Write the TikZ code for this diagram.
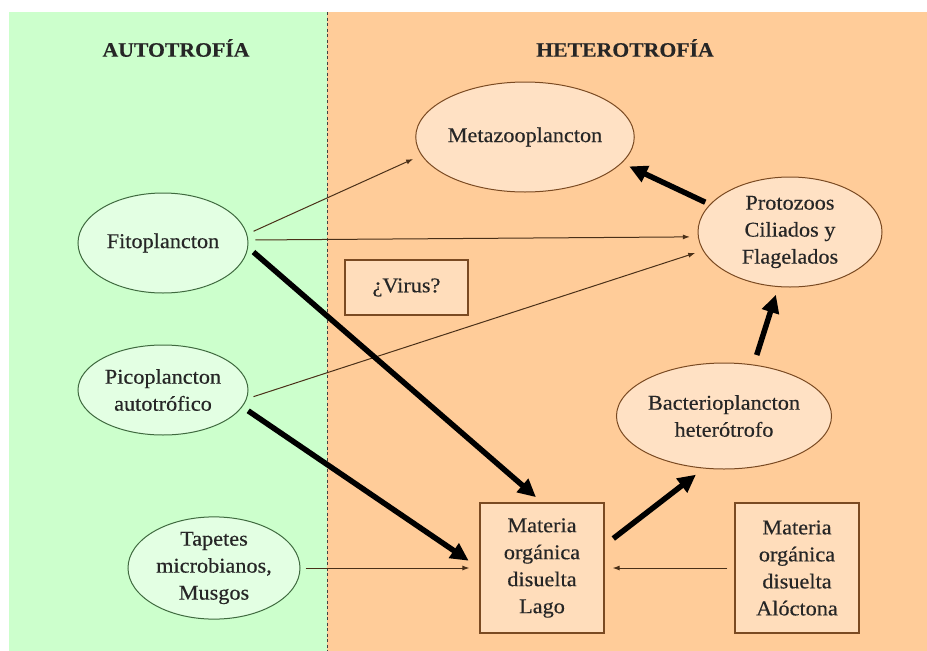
\documentclass[tikz,border=0pt]{standalone}
\usepackage{fontspec}
\setmainfont[FakeStretch=1.06,FakeBold=0.35]{Liberation Serif}
\usetikzlibrary{shapes.geometric,arrows.meta,calc}

\definecolor{verde}{HTML}{CCFFCC}
\definecolor{naranja}{HTML}{FFCC99}
\definecolor{verdeclaro}{HTML}{E3FFE3}
\definecolor{naranjaclaro}{HTML}{FFE1C4}
\definecolor{cajafondo}{HTML}{FFDDBB}
\definecolor{bordeverde}{HTML}{3F6A3F}
\definecolor{bordenaranja}{HTML}{7A4A22}
\definecolor{flecha}{HTML}{4A3018}

\tikzset{
  titulo/.style={font=\fontsize{20.5}{24}\selectfont\bfseries, text=black!85},
  texto/.style={font=\fontsize{21}{27}\selectfont, align=center, text=black!85, inner sep=0pt},
  elipv/.style={texto, ellipse, draw=bordeverde, fill=verdeclaro, line width=1pt},
  elipn/.style={texto, ellipse, draw=bordenaranja, fill=naranjaclaro, line width=1pt},
  caja/.style={texto, rectangle, draw=bordenaranja, fill=cajafondo, line width=1.2pt},
  fina/.style={draw=flecha, line width=1pt, -{Latex[length=7pt,width=5pt]}},
  gruesa/.style={draw=black, line width=5.5pt, -{Triangle[length=18pt,width=17pt]}},
  divisoria/.style={draw=black!75, line width=1pt, dash pattern=on 3pt off 2.5pt}
}

\begin{document}
\begin{tikzpicture}[x=1pt,y=-1pt]
\useasboundingbox (0,0) rectangle (927,651);
\fill[white] (0,0) rectangle (927,651);

% the two halves of the diagram
\fill[verde] (9,12) rectangle (327,651);
\fill[naranja] (327,12) rectangle (927,651);
\draw[divisoria] (327,12) -- (327,651);

% headings
\node[titulo] (auto) at (176,48) {AUTOTROFÍA};
\node[titulo] (hetero) at (625,48) {HETEROTROFÍA};

% producers
\node[elipv, minimum width=170pt, minimum height=100pt] (fito) at (163,243) {Fitoplancton};
\node[elipv, minimum width=170pt, minimum height=90pt] (pico) at (163,390) {Picoplancton\\autotrófico};
\node[elipv, minimum width=172pt, minimum height=102pt] (tapetes) at (214,568) {Tapetes\\microbianos,\\Musgos};

% consumers
\node[elipn, minimum width=210pt, minimum height=110pt] (meta) at (525,137) {Metazooplancton};
\node[elipn, minimum width=184pt, minimum height=110pt] (proto) at (790,232) {Protozoos\\Ciliados y\\Flagelados};
\node[elipn, minimum width=168pt, minimum height=106pt] (bact) at (724,416) {Bacterioplancton\\heterótrofo};

% boxes
\node[caja, minimum width=123pt, minimum height=55pt] (virus) at (406.5,287.5) {¿Virus?};
\node[caja, minimum width=124pt, minimum height=130pt] (lago) at (542,568) {Materia\\orgánica\\disuelta\\Lago};
\node[caja, minimum width=124pt, minimum height=130pt] (aloc) at (797,568) {Materia\\orgánica\\disuelta\\Alóctona};

% thin fluxes
\draw[fina, shorten <=7pt, shorten >=9pt] (fito.6) -- (meta.190);
\draw[fina, shorten <=7pt, shorten >=8pt] (fito.2) -- (proto.183);
\draw[fina, shorten <=7pt, shorten >=8pt] (pico.-6) -- (proto.192);
\draw[fina, shorten <=5pt, shorten >=10pt] (tapetes.east) -- (lago.west);
\draw[fina, shorten <=7pt, shorten >=8pt] (aloc.west) -- (lago.east);

% main fluxes
\draw[gruesa, shorten <=7pt, shorten >=8pt] (fito.-3) -- (lago.north);
\draw[gruesa, shorten <=7pt, shorten >=13pt] (pico.-12) -- (lago.west);
\draw[gruesa, shorten <=11pt, shorten >=10pt] (lago.20) -- (bact.249);
\draw[gruesa, shorten <=10pt, shorten >=8pt] (bact.60) -- (proto.258);
\draw[gruesa, shorten <=5pt, shorten >=8pt] (proto.161) -- (meta.345);
\end{tikzpicture}
\end{document}
